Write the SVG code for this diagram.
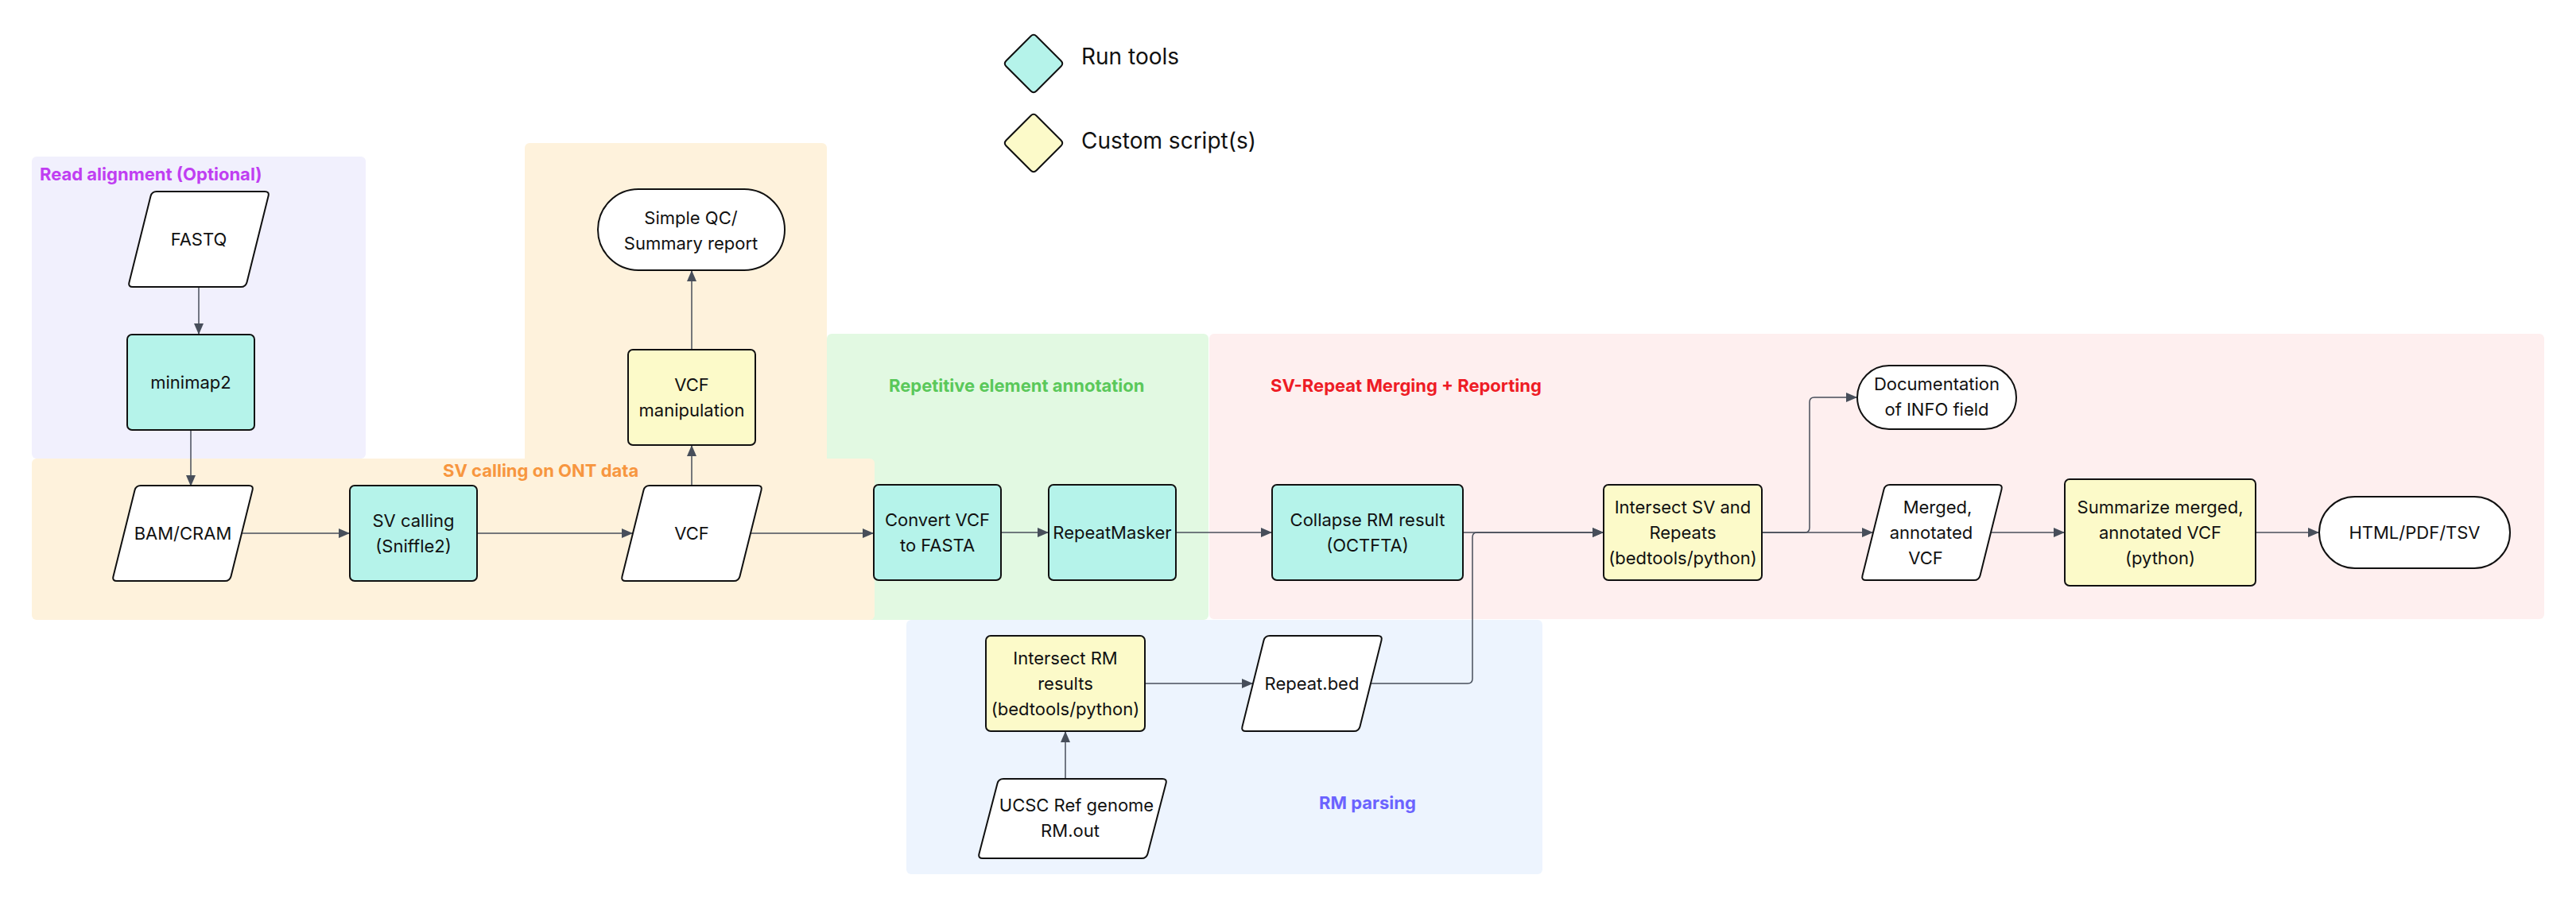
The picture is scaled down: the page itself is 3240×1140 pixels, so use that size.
<svg xmlns="http://www.w3.org/2000/svg" xmlns:xlink="http://www.w3.org/1999/xlink" width="3240" height="1140" viewBox="0 0 3240 1140">
<style>
  .region { stroke: none; }
  .rlabel { font-family: Inter, "Liberation Sans", sans-serif; font-size: 22px; font-weight: 700; }
  .node { stroke: #111111; stroke-width: 2; }
  .tool { fill: #b5f3ea; }
  .script { fill: #fcfac9; }
  .io { fill: #ffffff; }
  .t { font-family: Inter, "Liberation Sans", sans-serif; font-size: 22px; fill: #111111; text-anchor: middle; }
  .leg { font-family: Inter, "Liberation Sans", sans-serif; font-size: 28px; fill: #111111; }
  .edge { fill: none; stroke: #474e5a; stroke-width: 1.5; marker-end: url(#arrow); }
</style>
<defs>
  <marker id="arrow" markerUnits="userSpaceOnUse" markerWidth="14" markerHeight="12" refX="14" refY="6" orient="auto">
    <path d="M0,0 L14,6 L0,12 Z" fill="#474e5a"/>
  </marker>
  <path id="para" d="M36,0 L172,0 Q178,0 176.5,5.8 L149.5,114.2 Q148,120 142,120 L6,120 Q0,120 1.5,114.2 L28.5,5.8 Q30,0 36,0 Z"/>
  <path id="diamond" d="M3.5,-34.5 L34.5,-3.5 Q38,0 34.5,3.5 L3.5,34.5 Q0,38 -3.5,34.5 L-34.5,3.5 Q-38,0 -34.5,-3.5 L-3.5,-34.5 Q0,-38 3.5,-34.5 Z"/>
</defs>

<rect width="3240" height="1140" fill="#ffffff"/>

<!-- Regions -->
<g id="regions">
  <rect class="region" x="40" y="197" width="420" height="380" rx="6" fill="#f1f0fd"/>
  <rect class="region" x="1040" y="420" width="480" height="360" rx="6" fill="#e2f9e2"/>
  <rect class="region" x="660" y="180" width="380" height="420" rx="6" fill="#fef2dc"/>
  <rect class="region" x="40" y="577" width="1060" height="203" rx="6" fill="#fef2dc"/>
  <rect class="region" x="1521" y="420" width="1679" height="359" rx="6" fill="#feefef"/>
  <rect class="region" x="1140" y="780" width="800" height="320" rx="6" fill="#edf4fe"/>
  <text class="rlabel" x="50" y="227" fill="#c03ef2">Read alignment (Optional)</text>
  <text class="rlabel" x="557" y="600" fill="#f7963f">SV calling on ONT data</text>
  <text class="rlabel" x="1118" y="493" fill="#5ac85a">Repetitive element annotation</text>
  <text class="rlabel" x="1598" y="493" fill="#ee1c25">SV-Repeat Merging + Reporting</text>
  <text class="rlabel" x="1659" y="1018" fill="#6b63ff">RM parsing</text>
</g>

<!-- Legend -->
<g id="legend">
  <g id="legend-run-tools">
    <use xlink:href="#diamond" href="#diamond" x="1300" y="80" class="node tool"/>
    <text class="leg" x="1360" y="81">Run tools</text>
  </g>
  <g id="legend-custom-scripts">
    <use xlink:href="#diamond" href="#diamond" x="1300" y="180" class="node script"/>
    <text class="leg" x="1360" y="187">Custom script(s)</text>
  </g>
</g>

<!-- Connectors -->
<g id="connectors">
  <path class="edge" d="M250,362 V421"/>
  <path class="edge" d="M240,541 V612"/>
  <path class="edge" d="M305,671 H440"/>
  <path class="edge" d="M600,671 H796"/>
  <path class="edge" d="M870,611 V560"/>
  <path class="edge" d="M870,440 V340"/>
  <path class="edge" d="M944,671 H1099"/>
  <path class="edge" d="M1259,670 H1319"/>
  <path class="edge" d="M1479,670 H1600"/>
  <path class="edge" d="M1840,670 H2017"/>
  <path class="edge" d="M1724,860 H1846 Q1852,860 1852,854 V676 Q1852,670 1858,670 H2017"/>
  <path class="edge" d="M2216,670 H2356"/>
  <path class="edge" d="M2216,670 H2270 Q2276,670 2276,664 V506 Q2276,500 2282,500 H2336"/>
  <path class="edge" d="M2504,670 H2597"/>
  <path class="edge" d="M2837,670 H2917"/>
  <path class="edge" d="M1440,860 H1576"/>
  <path class="edge" d="M1340,980 V920"/>
</g>

<!-- Nodes -->
<g id="fastq">
  <use xlink:href="#para" href="#para" x="161" y="241" class="node io"/>
  <text class="t" x="250" y="309">FASTQ</text>
</g>
<g id="minimap2">
  <rect class="node tool" x="160" y="421" width="160" height="120" rx="6"/>
  <text class="t" x="240" y="489">minimap2</text>
</g>
<g id="bam-cram">
  <use xlink:href="#para" href="#para" x="141" y="611" class="node io"/>
  <text class="t" x="230" y="679">BAM/CRAM</text>
</g>
<g id="sv-calling">
  <rect class="node tool" x="440" y="611" width="160" height="120" rx="6"/>
  <text class="t" x="520" y="663">SV calling</text>
  <text class="t" x="520" y="695">(Sniffle2)</text>
</g>
<g id="vcf">
  <use xlink:href="#para" href="#para" x="781" y="611" class="node io"/>
  <text class="t" x="870" y="679">VCF</text>
</g>
<g id="vcf-manipulation">
  <rect class="node script" x="790" y="440" width="160" height="120" rx="6"/>
  <text class="t" x="870" y="492">VCF</text>
  <text class="t" x="870" y="524">manipulation</text>
</g>
<g id="simple-qc">
  <rect class="node io" x="752" y="238" width="235" height="102" rx="51"/>
  <text class="t" x="869" y="282">Simple QC/</text>
  <text class="t" x="869" y="314">Summary report</text>
</g>
<g id="convert-vcf">
  <rect class="node tool" x="1099" y="610" width="160" height="120" rx="6"/>
  <text class="t" x="1179" y="662">Convert VCF</text>
  <text class="t" x="1179" y="694">to FASTA</text>
</g>
<g id="repeatmasker">
  <rect class="node tool" x="1319" y="610" width="160" height="120" rx="6"/>
  <text class="t" x="1399" y="678">RepeatMasker</text>
</g>
<g id="collapse-rm">
  <rect class="node tool" x="1600" y="610" width="240" height="120" rx="6"/>
  <text class="t" x="1720" y="662">Collapse RM result</text>
  <text class="t" x="1720" y="694">(OCTFTA)</text>
</g>
<g id="intersect-sv">
  <rect class="node script" x="2017" y="610" width="199" height="120" rx="6"/>
  <text class="t" x="2116.5" y="646">Intersect SV and</text>
  <text class="t" x="2116.5" y="678">Repeats</text>
  <text class="t" x="2116.5" y="710">(bedtools/python)</text>
</g>
<g id="documentation">
  <rect class="node io" x="2336" y="460" width="200" height="80" rx="40"/>
  <text class="t" x="2436" y="491">Documentation</text>
  <text class="t" x="2436" y="523">of INFO field</text>
</g>
<g id="merged-vcf">
  <use xlink:href="#para" href="#para" x="2341" y="610" class="node io"/>
  <text class="t" x="2437" y="646">Merged,</text>
  <text class="t" x="2429" y="678">annotated</text>
  <text class="t" x="2422" y="710">VCF</text>
</g>
<g id="summarize">
  <rect class="node script" x="2597" y="603" width="240" height="134" rx="6"/>
  <text class="t" x="2717" y="646">Summarize merged,</text>
  <text class="t" x="2717" y="678">annotated VCF</text>
  <text class="t" x="2717" y="710">(python)</text>
</g>
<g id="html-pdf-tsv">
  <rect class="node io" x="2917" y="625" width="240" height="90" rx="45"/>
  <text class="t" x="3037" y="678">HTML/PDF/TSV</text>
</g>
<g id="intersect-rm">
  <rect class="node script" x="1240" y="800" width="200" height="120" rx="6"/>
  <text class="t" x="1340" y="836">Intersect RM</text>
  <text class="t" x="1340" y="868">results</text>
  <text class="t" x="1340" y="900">(bedtools/python)</text>
</g>
<g id="repeat-bed">
  <use xlink:href="#para" href="#para" x="1561" y="800" class="node io"/>
  <text class="t" x="1650" y="868">Repeat.bed</text>
</g>
<g id="ucsc-rm-out">
  <path class="node io" d="M1262,980 L1462,980 Q1468,980 1466.5,985.8 L1443.5,1074.2 Q1442,1080 1436,1080 L1236,1080 Q1230,1080 1231.5,1074.2 L1254.5,985.8 Q1256,980 1262,980 Z"/>
  <text class="t" x="1354" y="1021">UCSC Ref genome</text>
  <text class="t" x="1346" y="1053">RM.out</text>
</g>
</svg>
